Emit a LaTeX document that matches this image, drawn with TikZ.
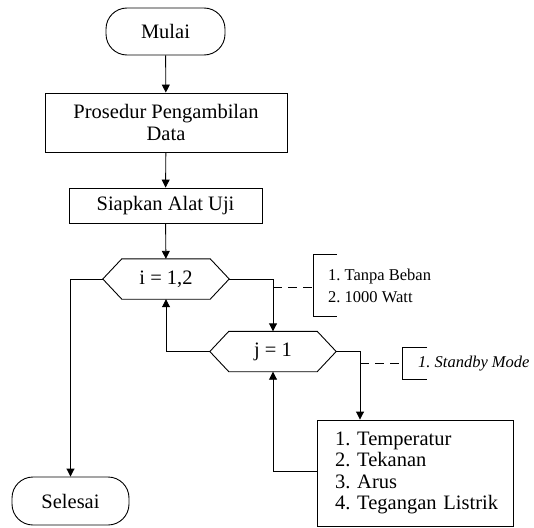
\documentclass[tikz,border=0pt]{standalone}
\usepackage{fontspec}
\setmainfont{Liberation Serif}
\usetikzlibrary{arrows.meta,calc}
\frenchspacing
\begin{document}
\begin{tikzpicture}[x=1pt,y=-1pt,
  every node/.style={font=\fontsize{20.5}{22}\selectfont},
  ln/.style={line width=0.9pt},
  arr/.style={ln,-{Triangle[length=8pt,width=8pt]}},
  dsh/.style={ln,dash pattern=on 9pt off 6pt},
  term/.style={draw,ln,rounded corners=21pt,inner sep=0pt},
  proc/.style={draw,ln,inner sep=0pt,align=center},
  hexn/.style={inner sep=0pt,minimum width=126pt,minimum height=40pt},
  small/.style={font=\fontsize{16.5}{22}\selectfont,align=left,inner sep=0pt,anchor=west}]
\useasboundingbox (0,0) rectangle (534,527);
\node[term,minimum width=119pt,minimum height=47pt] (mulai) at (165.5,31.5) {Mulai};
\node[proc,minimum width=242pt,minimum height=59pt] (pros) at (166,122.5) {Prosedur Pengambilan\\Data};
\node[proc,minimum width=193pt,minimum height=35pt] (siap) at (165.5,205.5) {Siapkan Alat Uji};
\node[hexn] (i) at (166,279) {i = 1,2};
\node[hexn] (j) at (273,351.5) {j = 1};
\node[term,minimum width=117pt,minimum height=48pt] (sel) at (70.5,501) {Selesai};
\node[proc,minimum width=196pt,minimum height=106pt,align=left,text width=176pt,
  font=\fontsize{20.5}{21.3}\selectfont] (res) at (415,473)
  {\hspace*{8pt}1. Temperatur\\\hspace*{8pt}2. Tekanan\\\hspace*{8pt}3. Arus\\\hspace*{8pt}4. Tegangan Listrik};
\foreach \h in {i,j}{
  \draw[ln] (\h.west) -- ([xshift=19pt]\h.north west) -- ([xshift=-19pt]\h.north east) -- (\h.east)
    -- ([xshift=-19pt]\h.south east) -- ([xshift=19pt]\h.south west) -- cycle;
}
\draw[arr] (mulai) -- (pros);
\draw[arr] (pros) -- (siap);
\draw[arr] (siap) -- (i);
\draw[arr] (i.west) -| (sel.north);
\draw[arr] (i.east) -| (j.north);
\draw[arr] (j.west) -| (i.south);
\coordinate (jr) at (360,351.5);
\draw[arr] (j.east) -- (jr) -- (jr |- res.north);
\draw[arr] ([yshift=2pt]res.west) -| (j.south);
% annotations
\node[small,minimum height=61pt,inner xsep=15pt] (b1) at (313,285.5) {1. Tanpa Beban\\2. 1000 Watt};
\draw[ln] ([xshift=24pt]b1.north west) -- (b1.north west) -- (b1.south west) -- ([xshift=24pt]b1.south west);
\node[small,minimum height=31pt,inner xsep=16pt] (b2) at (402,363.5) {\itshape 1. Standby Mode};
\draw[ln] ([xshift=25pt]b2.north west) -- (b2.north west) -- (b2.south west) -- ([xshift=25pt]b2.south west);
\coordinate (d1) at (273,287);
\coordinate (d2) at (360,363.5);
\draw[dsh] (d1) -- (d1 -| b1.west);
\draw[dsh] (d2) -- (d2 -| b2.west);
\end{tikzpicture}
\end{document}
